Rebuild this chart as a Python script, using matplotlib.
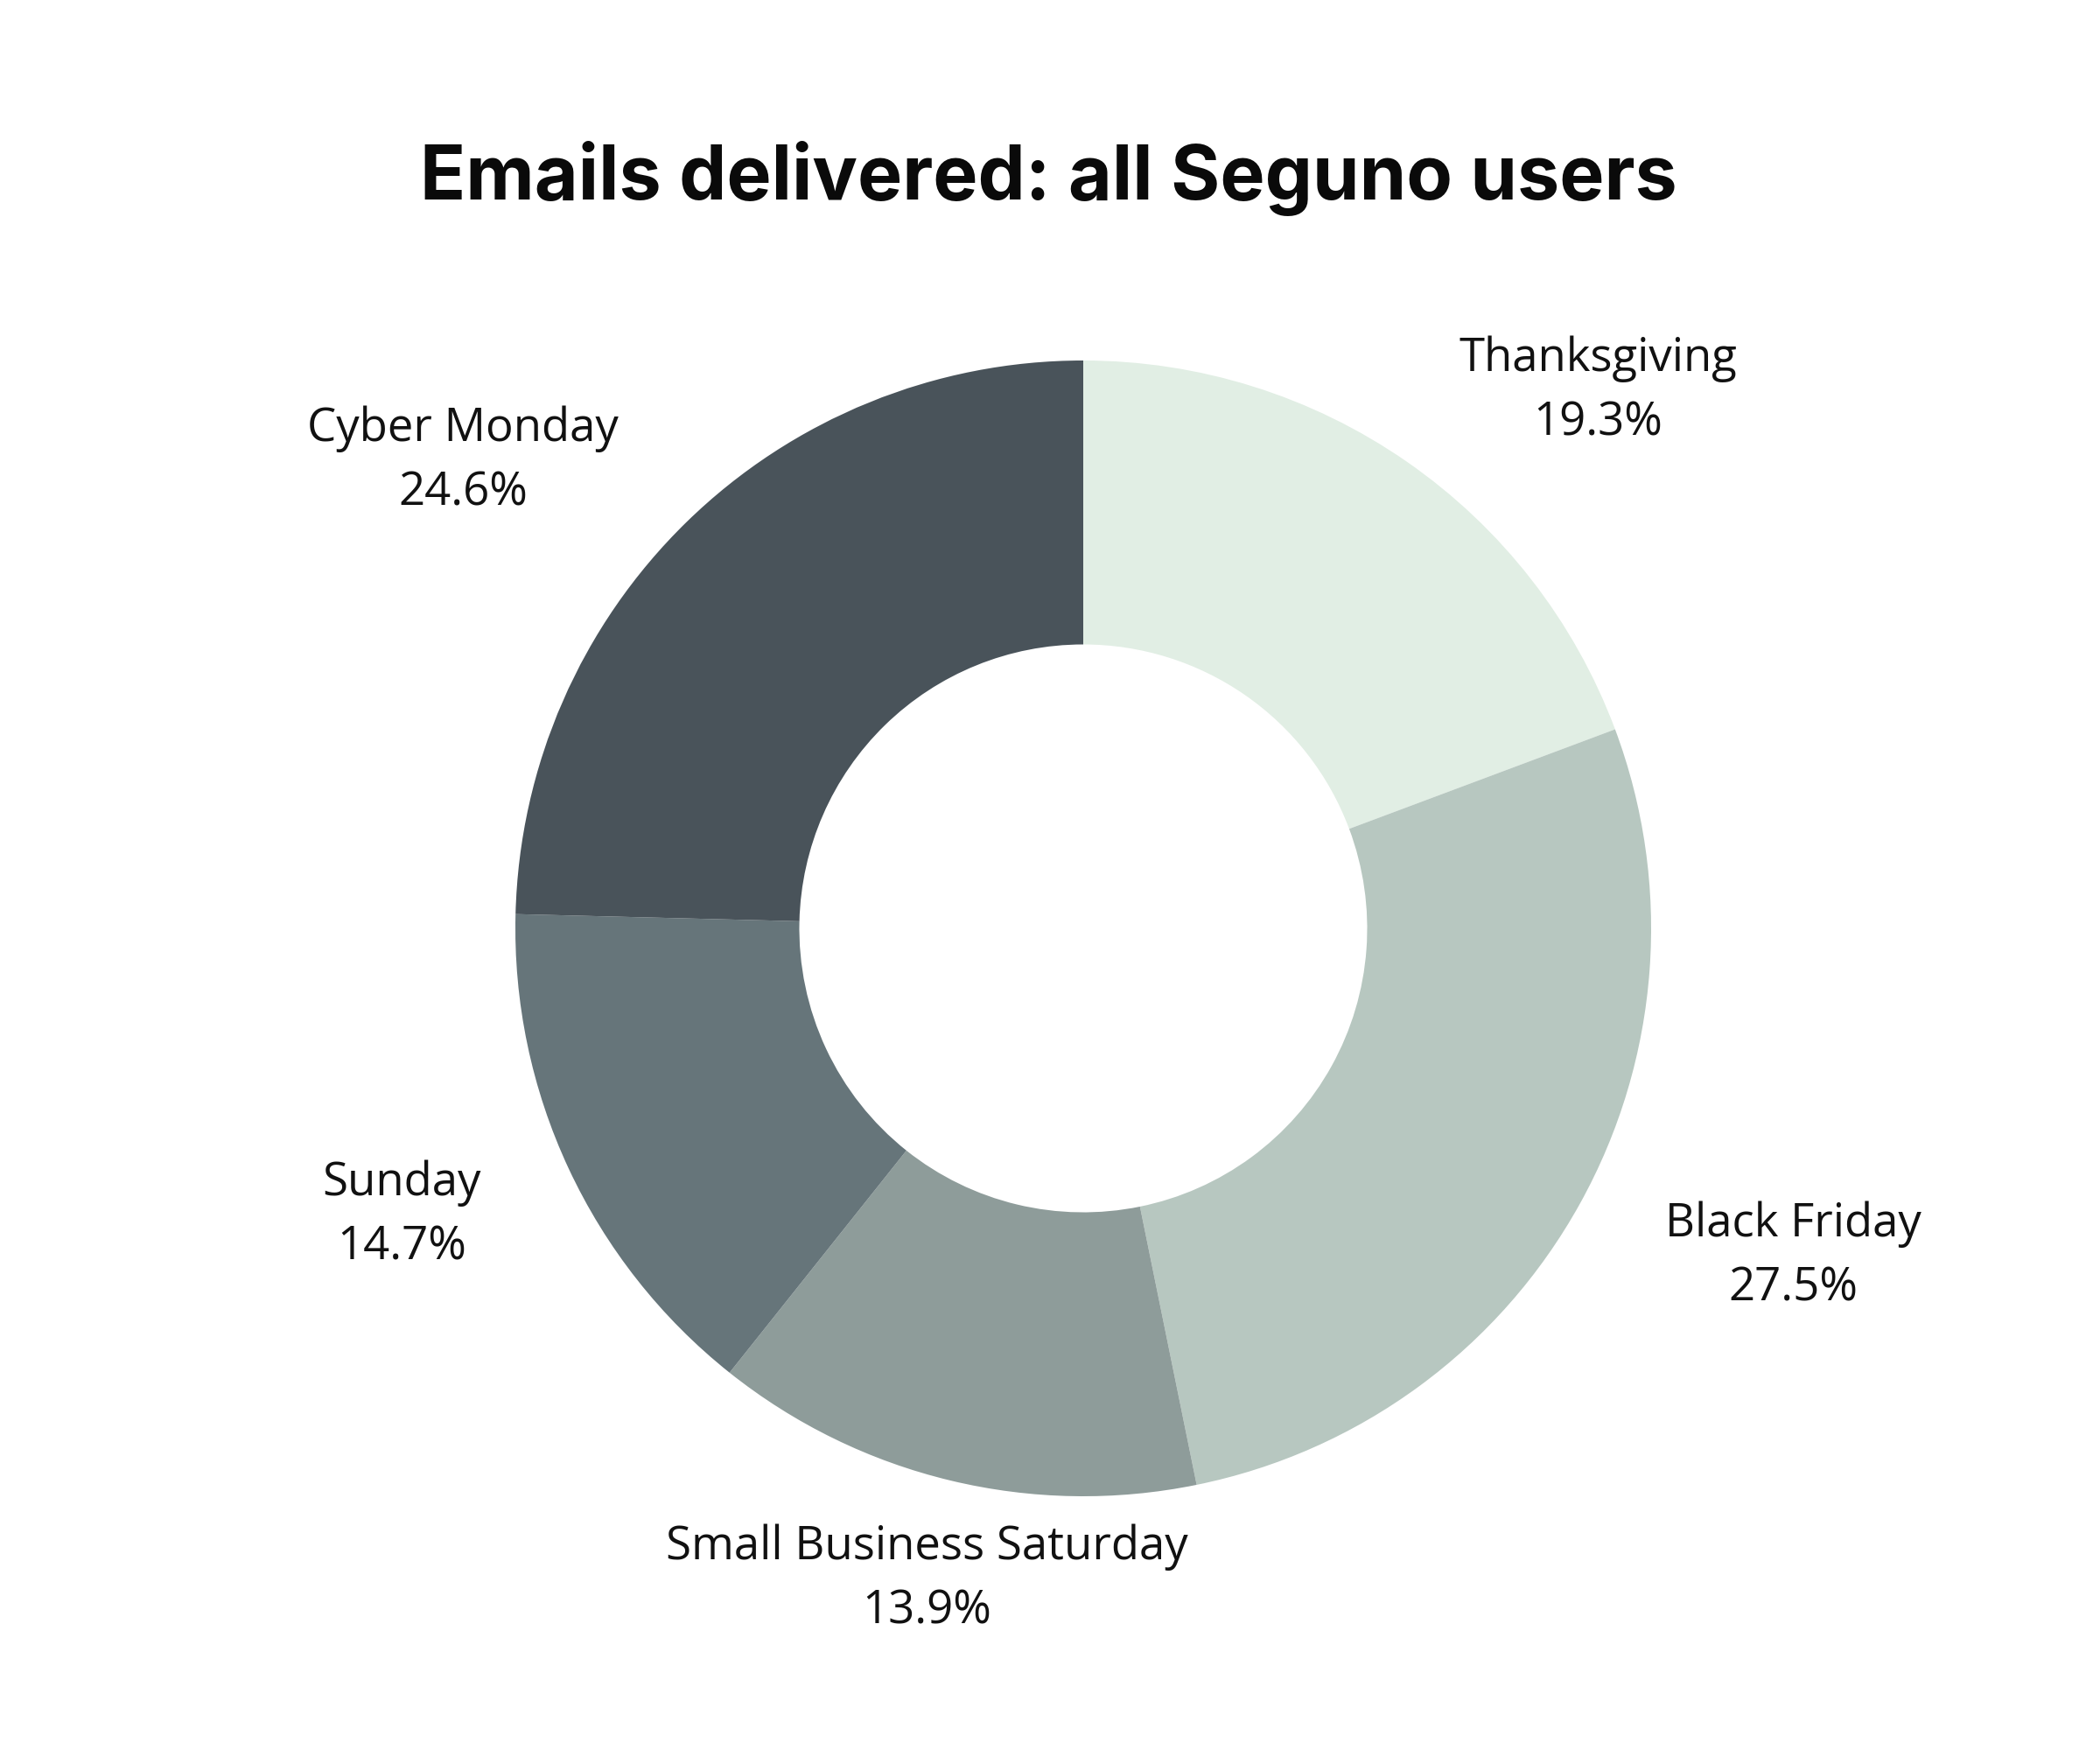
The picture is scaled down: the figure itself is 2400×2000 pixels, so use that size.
import matplotlib.pyplot as plt

categories = ["Thanksgiving", "Black Friday", "Small Business Saturday", "Sunday", "Cyber Monday"]
shares = [19.3, 27.5, 13.9, 14.7, 24.6]
colors = ["#e1eee4", "#b7c7c0", "#8e9c9a", "#66757a", "#49535a"]

# label centres in axes data units (pie radius = 1)
label_pos = [(0.906, 0.946), (1.250, -0.578), (-0.276, -1.146), (-1.200, -0.505), (-1.092, 0.823)]

fig = plt.figure(figsize=(12, 10), dpi=200)
fig.patch.set_facecolor("white")

# donut centre / radius measured in the reference (px of a 2400x2000 canvas)
r_w = 649 / 2400
r_h = 649 / 2000
cx, cy = 1238 / 2400, 1 - 1061 / 2000
ax = fig.add_axes([cx - r_w, cy - r_h, 2 * r_w, 2 * r_h])

ax.pie(shares, colors=colors, startangle=90, counterclock=False,
       wedgeprops=dict(width=0.5, linewidth=0), radius=1)
ax.set_xlim(-1, 1)
ax.set_ylim(-1, 1)
ax.set_aspect("equal")
ax.axis("off")

for name, val, (x, y) in zip(categories, shares, label_pos):
    ax.text(x, y, f"{name}\n{val}%", ha="center", va="center",
            fontsize=19, family="Open Sans", linespacing=1.5,
            color="#111111", clip_on=False)

fig.text(0.4994, 0.886, "Emails delivered: all Seguno users", ha="center", va="baseline",
         fontsize=31, fontweight="bold", family="Inter", color="#0a0a0a")

fig.savefig("out.png", dpi=200)
